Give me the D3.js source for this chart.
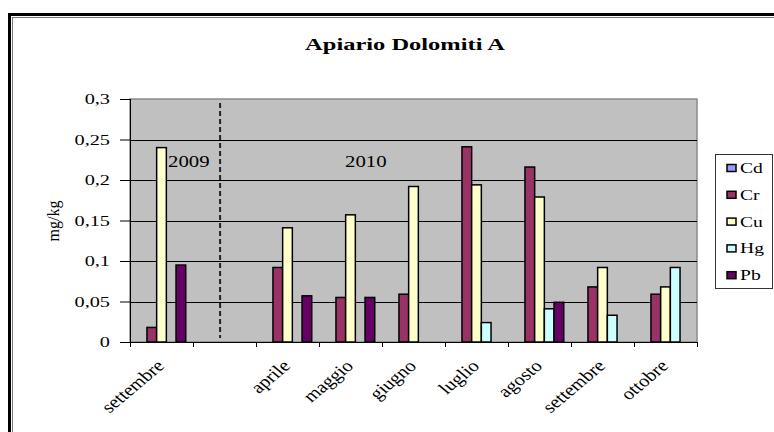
<!DOCTYPE html>
<html><head><meta charset="utf-8">
<script src="https://cdn.jsdelivr.net/npm/d3@7/dist/d3.min.js"></script>
<style>
html,body{margin:0;padding:0;background:#fff;}
svg{display:block;}
</style></head>
<body>
<svg id="c" width="774" height="432"></svg>
<script>
const title = "Apiario Dolomiti A";
const yLabel = "mg/kg";
const categories = ["settembre", "", "aprile", "maggio", "giugno", "luglio", "agosto", "settembre", "ottobre"];
const seriesNames = ["Cd", "Cr", "Cu", "Hg", "Pb"];
const seriesColors = ["#9999FF", "#993366", "#FFFFCC", "#CCFFFF", "#660066"];
const Cd = [null, null, null, null, null, null, null, null, null];
const Cr = [0.018, null, 0.092, 0.055, 0.059, 0.241, 0.216, 0.068, 0.059];
const Cu = [0.240, null, 0.141, 0.157, 0.192, 0.194, 0.179, 0.092, 0.068];
const Hg = [null, null, null, null, null, 0.024, 0.041, 0.033, 0.092];
const Pb = [0.095, null, 0.057, 0.055, null, null, 0.049, null, null];
const yTicks = [0, 0.05, 0.1, 0.15, 0.2, 0.25, 0.3];
const yTickLabels = ["0", "0,05", "0,1", "0,15", "0,2", "0,25", "0,3"];
const yearLabels = ["2009", "2010"];

const FONT = "Liberation Serif";
const seriesValues = [Cd, Cr, Cu, Hg, Pb];
const svg = d3.select("#c");

// outer frame (double border, right/bottom edges outside the view)
svg.append("rect").attr("x", 9.5).attr("y", 14.5).attr("width", 800).attr("height", 450)
  .attr("fill", "none").attr("stroke", "#000").attr("stroke-width", 3);
svg.append("rect").attr("x", 12.5).attr("y", 17.5).attr("width", 800).attr("height", 450)
  .attr("fill", "none").attr("stroke", "#777").attr("stroke-width", 1);

const plot = {left: 130, right: 697, top: 99, bottom: 342};
const x = d3.scaleBand().domain(d3.range(categories.length)).range([plot.left, plot.right]);
const y = d3.scaleLinear().domain([0, 0.3]).range([plot.bottom, plot.top]);
const bw = x.bandwidth() / (seriesNames.length + 1.5);
const xs = d3.scaleBand().domain(d3.range(seriesNames.length))
  .range([bw * 0.75, bw * 0.75 + bw * seriesNames.length]);

// plot area
svg.append("rect").attr("x", plot.left).attr("y", plot.top)
  .attr("width", plot.right - plot.left).attr("height", plot.bottom - plot.top)
  .attr("fill", "#C0C0C0").attr("stroke", "#8a8a8a").attr("stroke-width", 1.5);

// gridlines
svg.append("g").selectAll("line").data(yTicks.filter(t => t > 0 && t < 0.3)).join("line")
  .attr("x1", plot.left).attr("x2", plot.right)
  .attr("y1", d => Math.round(y(d)) + 0.5).attr("y2", d => Math.round(y(d)) + 0.5)
  .attr("stroke", "#000").attr("stroke-width", 1);

// y axis
const yAxis = d3.axisLeft(y).tickValues(yTicks).tickSize(10).tickFormat("");
const gy = svg.append("g").attr("transform", `translate(${plot.left},0)`).call(yAxis);
gy.select(".domain").attr("stroke", "#000").attr("d", `M0.5,${plot.top}V${plot.bottom}`);
gy.selectAll(".tick line").attr("stroke", "#000");
svg.append("g").selectAll("text").data(yTicks).join("text")
  .attr("font-family", FONT)
  .attr("text-anchor", "end").attr("font-size", 14)
  .attr("transform", d => `translate(110,${y(d) + 5}) scale(1.45,1)`)
  .text((d, i) => yTickLabels[i]);

// x axis
const xAxis = d3.axisBottom(x).tickSize(5).tickFormat("");
const gx = svg.append("g").attr("transform", `translate(0,${plot.bottom})`).call(xAxis);
gx.selectAll(".tick").remove();
gx.select(".domain").attr("stroke", "#000").attr("d", `M${plot.left},0.5H${plot.right}`);
const edges = d3.range(categories.length + 1).map(i => plot.left + i * x.step());
gx.selectAll("line.edge").data(edges).join("line").attr("class", "edge")
  .attr("x1", d => Math.round(d) + 0.5).attr("x2", d => Math.round(d) + 0.5)
  .attr("y1", 0).attr("y2", 5).attr("stroke", "#000");

svg.append("g").selectAll("text").data(categories).join("text")
  .attr("font-family", FONT)
  .attr("text-anchor", "end").attr("font-size", 17)
  .attr("transform", (d, i) => `translate(${x(i) + x.bandwidth() / 2 + 4},${plot.bottom + 25}) scale(1.2,1) rotate(-45)`)
  .text(d => d);

// dashed divider between 2009 and 2010
svg.append("line")
  .attr("x1", x(1) + x.bandwidth() * 0.43).attr("x2", x(1) + x.bandwidth() * 0.43)
  .attr("y1", plot.top + 4).attr("y2", plot.bottom - 4)
  .attr("stroke", "#222").attr("stroke-width", 2).attr("stroke-dasharray", "5,3");

// bars
seriesValues.forEach((vals, si) => {
  svg.append("g").selectAll("rect").data(vals.map((v, i) => ({v, i})).filter(d => d.v != null)).join("rect")
    .attr("x", d => x(d.i) + xs(si))
    .attr("y", d => y(d.v))
    .attr("width", xs.bandwidth())
    .attr("height", d => y(0) - y(d.v))
    .attr("fill", seriesColors[si]).attr("stroke", "#000").attr("stroke-width", 1.5);
});

// year labels
svg.append("text").attr("font-family", FONT).attr("font-size", 16).attr("transform", `translate(168,167) scale(1.3,1)`).text(yearLabels[0]);
svg.append("text").attr("font-family", FONT).attr("font-size", 16).attr("transform", `translate(345,167) scale(1.3,1)`).text(yearLabels[1]);

// title
svg.append("text").attr("font-family", FONT).attr("font-size", 17).attr("font-weight", "bold").attr("text-anchor", "middle")
  .attr("transform", `translate(405,50) scale(1.44,1)`).text(title);

// y label
svg.append("text").attr("font-family", FONT).attr("font-size", 16).attr("text-anchor", "middle")
  .attr("transform", `translate(59,221) scale(1.1,1) rotate(-90)`).text(yLabel);

// legend
const lg = svg.append("g");
lg.append("rect").attr("x", 715.5).attr("y", 154.5).attr("width", 57).attr("height", 134)
  .attr("fill", "#fff").attr("stroke", "#333").attr("stroke-width", 1);
const rows = lg.selectAll("g").data(seriesNames).join("g")
  .attr("transform", (d, i) => `translate(0,${168 + i * 26.8})`);
rows.append("rect").attr("x", 727).attr("y", -3.5).attr("width", 9).attr("height", 7)
  .attr("fill", (d, i) => seriesColors[i]).attr("stroke", "#000").attr("stroke-width", 1.5);
rows.append("text").attr("font-family", FONT).attr("font-size", 14)
  .attr("transform", `translate(740,5) scale(1.4,1)`).text(d => d);
</script>
</body></html>
